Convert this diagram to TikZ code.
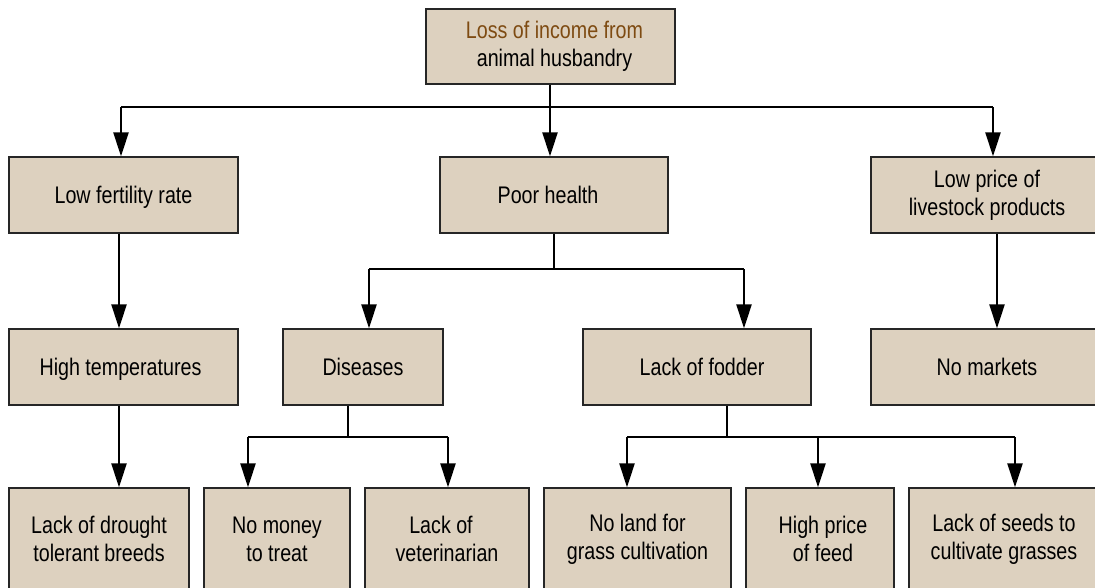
\documentclass[tikz,border=0pt]{standalone}
\usepackage{fontspec}
\setmainfont{Liberation Sans}[FakeStretch=0.82]
\usetikzlibrary{arrows.meta}
\definecolor{boxfill}{HTML}{DDD1BF}
\definecolor{headbrown}{HTML}{7E4B12}
% moves a centred line sideways by #1
\newcommand\nudge[1]{\hspace*{#1}\hspace*{#1}}
\begin{document}
\begin{tikzpicture}[x=1pt,y=-1pt,
  box/.style={draw=black!85,line width=1.3pt,fill=boxfill,align=center,
    inner sep=0pt,font=\fontsize{24}{28}\selectfont},
  oneline/.style={box,text depth=0pt},
  link/.style={line width=2.4pt,black},
  arr/.style={link,-{Triangle[length=24pt,width=15pt]}}]
\useasboundingbox (0,0) rectangle (1095,587);
\clip (0,0) rectangle (1095,587);
\fill[white] (0,0) rectangle (1095,587);

% level 1
\node[box,minimum width=249pt,minimum height=75pt] (top) at (550.5,46.5)
  {\nudge{4pt}\textcolor{headbrown}{Loss of income from}\\\nudge{4pt}animal husbandry};

% level 2
\node[oneline,minimum width=229pt,minimum height=76pt] (fert) at (123.5,195) {Low fertility rate};
\node[oneline,minimum width=228pt,minimum height=76pt] (health) at (554,195) {\nudge{-6pt}Poor health};
\node[box,minimum width=232pt,minimum height=76pt] (price) at (987,195) {Low price of\\livestock products};

% level 3
\node[oneline,minimum width=229pt,minimum height=76pt] (temp) at (123.5,367) {\nudge{-3pt}High temperatures};
\node[oneline,minimum width=160pt,minimum height=76pt] (dis) at (363,367) {Diseases};
\node[oneline,minimum width=228pt,minimum height=76pt] (fodder) at (697,367) {\nudge{5pt}Lack of fodder};
\node[oneline,minimum width=232pt,minimum height=76pt] (markets) at (987,367) {No markets};

% level 4
\node[box,minimum width=180pt,minimum height=102pt] (drought) at (99,539) {Lack of drought\\tolerant breeds};
\node[box,minimum width=146pt,minimum height=102pt] (money) at (277,539) {No money\\to treat};
\node[box,minimum width=164pt,minimum height=102pt] (vet) at (447,539) {\nudge{-6pt}Lack of\\veterinarian};
\node[box,minimum width=187pt,minimum height=102pt] (land) at (637.5,539) {No land for\\grass cultivation};
\node[box,minimum width=148pt,minimum height=102pt] (feed) at (820,539) {\nudge{3pt}High price\\\nudge{3pt}of feed};
\node[box,minimum width=190pt,minimum height=102pt] (seeds) at (1004,539) {Lack of seeds to\\cultivate grasses};

% junction points of the branching lines
\coordinate (b1) at (550,107);
\coordinate (b2) at (554,269);
\coordinate (b3) at (348,437);
\coordinate (b4) at (727,437);

% from the top box
\draw[link] (top.south -| b1) -- (b1);
\draw[link] (121,107) -- (993,107);
\draw[arr] (121,107) -- (121,0 |- fert.north);
\draw[arr] (b1) -- (b1 |- health.north);
\draw[arr] (993,107) -- (993,0 |- price.north);

% straight chains
\draw[arr] (119,0 |- fert.south) -- (119,0 |- temp.north);
\draw[arr] (119,0 |- temp.south) -- (119,0 |- drought.north);
\draw[arr] (997,0 |- price.south) -- (997,0 |- markets.north);

% poor health branches
\draw[link] (b2 |- health.south) -- (b2);
\draw[link] (369,269) -- (744,269);
\draw[arr] (369,269) -- (369,0 |- dis.north);
\draw[arr] (744,269) -- (744,0 |- fodder.north);

% diseases branches
\draw[link] (b3 |- dis.south) -- (b3);
\draw[link] (248,437) -- (448,437);
\draw[arr] (248,437) -- (248,0 |- money.north);
\draw[arr] (448,437) -- (448,0 |- vet.north);

% fodder branches
\draw[link] (b4 |- fodder.south) -- (b4);
\draw[link] (627,437) -- (1015,437);
\draw[arr] (627,437) -- (627,0 |- land.north);
\draw[arr] (818,437) -- (818,0 |- feed.north);
\draw[arr] (1015,437) -- (1015,0 |- seeds.north);
\end{tikzpicture}
\end{document}
